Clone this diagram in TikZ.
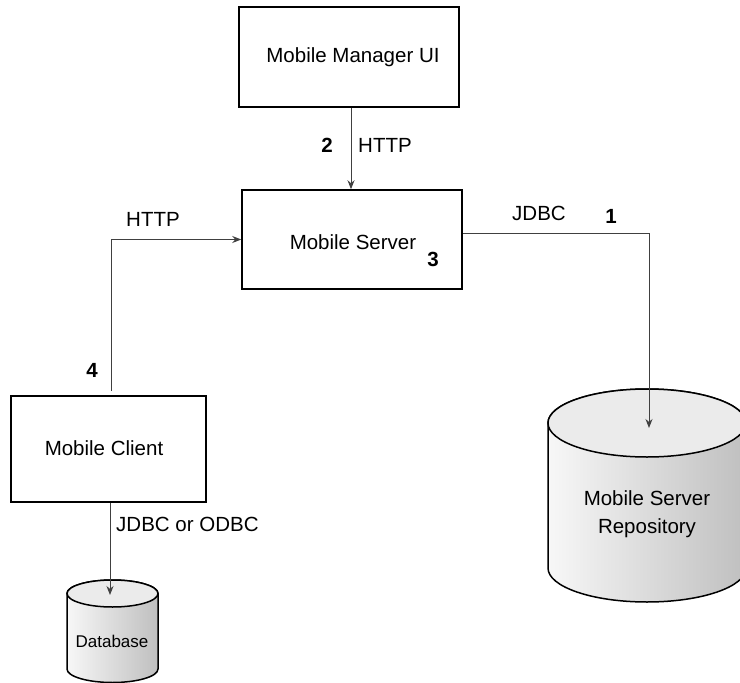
\documentclass[tikz,border=0pt]{standalone}
\usepackage{fontspec}
\setmainfont{Liberation Sans}
\usetikzlibrary{arrows.meta,calc}
\begin{document}
\begin{tikzpicture}[x=1pt,y=-1pt,
  box/.style={draw=black,line width=1.5pt,fill=white,inner sep=0pt},
  conn/.style={draw=black!75,line width=1pt,-{Stealth[length=9pt,width=7pt]}},
  lbl/.style={font=\fontsize{20.5}{24}\selectfont,inner sep=0pt},
  num/.style={font=\fontsize{20.5}{24}\selectfont\bfseries,inner sep=0pt},
  dbside/.style={draw=black,line width=1.5pt,left color=black!3,right color=black!25},
  dbtop/.style={draw=black,line width=1.5pt,fill=black!8}]
\useasboundingbox (0,0) rectangle (740,683);

% boxes
\node[box,minimum width=220pt,minimum height=100pt] (ui) at (349,57) {};
\node[lbl] (uit) at (353,57) {Mobile Manager UI};
\node[box,minimum width=220pt,minimum height=99pt] (server) at (352,239.5) {};
\node[lbl] (servert) at (353,242) {Mobile Server};
\node[box,minimum width=195pt,minimum height=106pt] (client) at (108.5,449) {};
\node[lbl] (clientt) at (104,448) {Mobile Client};

% repository cylinder
\path[dbside] (548,423) -- (548,568) arc[start angle=180,end angle=360,x radius=99pt,y radius=34pt]
  -- (746,423) arc[start angle=0,end angle=180,x radius=99pt,y radius=34pt] -- cycle;
\path[dbtop] (647,423) ellipse[x radius=99pt,y radius=34pt];
\node[font=\fontsize{20.5}{28}\selectfont,inner sep=0pt,align=center] (repo) at (647,514) {Mobile Server\\Repository};
\coordinate (repotop) at (649,428);

% database cylinder
\path[dbside] (67,593.5) -- (67,669) arc[start angle=180,end angle=360,x radius=45.5pt,y radius=13.5pt]
  -- (158,593.5) arc[start angle=0,end angle=180,x radius=45.5pt,y radius=13.5pt] -- cycle;
\path[dbtop] (112.5,593.5) ellipse[x radius=45.5pt,y radius=13.5pt];
\node[font=\fontsize{17}{20}\selectfont,inner sep=0pt] (db) at (112,641) {Database};
\coordinate (dbtopc) at (110,595);

% connectors
\draw[conn] ($(ui.south)+(2,0)$) -- ($(ui.south |- server.north)+(2,0)$);
\coordinate (c4) at (111,391);
\draw[conn] (c4) |- (server.west);
\coordinate (j1) at ($(server.east)+(0,-6.5)$);
\draw[conn] (j1) -| (repotop);
\draw[conn] ($(client.south)+(1.5,0)$) -- (dbtopc);

% labels
\node[num] (n2) at (327,145) {2};
\node[lbl] (h2) at (385,145) {HTTP};
\node[lbl] (h4) at (153,219) {HTTP};
\node[num] (n3) at (433,259) {3};
\node[lbl] (jd) at (539,213) {JDBC};
\node[num] (n1) at (611,216) {1};
\node[num] (n4) at (92,370) {4};
\node[lbl,anchor=west] (jo) at (116,524) {JDBC or ODBC};
\end{tikzpicture}
\end{document}
